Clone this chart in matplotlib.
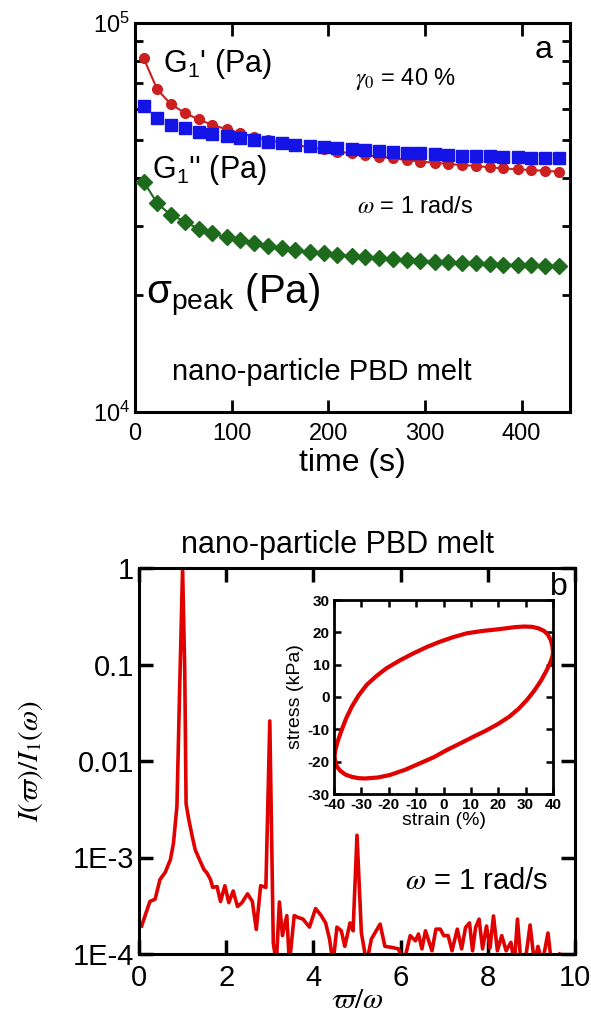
import numpy as np
import matplotlib
matplotlib.use("Agg")
import matplotlib.pyplot as plt
from matplotlib.ticker import FixedLocator, FixedFormatter, NullFormatter, LogLocator

plt.rcParams["font.family"] = ["Liberation Sans", "DejaVu Sans"]
plt.rcParams["mathtext.fontset"] = "custom"
plt.rcParams["mathtext.rm"] = "Liberation Sans"
plt.rcParams["mathtext.it"] = "Liberation Sans:italic"
plt.rcParams["mathtext.bf"] = "Liberation Sans:bold"
plt.rcParams["axes.unicode_minus"] = False

# panel a: moduli vs time
time_s = [9, 23, 37, 52, 66, 80, 95, 109, 123, 138, 152, 166, 181, 195, 209, 224,
          238, 252, 267, 281, 295, 310, 324, 338, 353, 367, 381, 396, 410, 424, 439]
g1_storage = [81100, 67500, 61900, 58600, 56500, 54700, 53300, 52100, 51000, 50000,
              49250, 48600, 47900, 47400, 46700, 46250, 45800, 45350, 44900, 44450,
              44000, 43750, 43400, 43150, 42900, 42550, 42300, 42050, 41900, 41650, 41500]
g1_loss = [61200, 56900, 54700, 53600, 52600, 51800, 51100, 50500, 50000, 49500,
           49100, 48700, 48300, 48000, 47700, 47400, 47100, 46800, 46600, 46400,
           46200, 46000, 45800, 45600, 45500, 45400, 45300, 45200, 45100, 45000, 44900]
sigma_peak = [39100, 34400, 32100, 30850, 29500, 28800, 28100, 27600, 27150, 26700,
              26350, 26100, 25800, 25600, 25330, 25180, 24980, 24830, 24690, 24540,
              24430, 24350, 24270, 24150, 24100, 24020, 23930, 23880, 23830, 23780, 23730]

# panel b: Fourier spectrum
freq_ratio = [0.06, 0.25, 0.37, 0.48, 0.60, 0.72, 0.79, 0.87, 0.93, 1.00, 1.05, 1.08,
              1.14, 1.22, 1.29, 1.37, 1.49, 1.56, 1.64, 1.69, 1.79, 1.87, 1.97, 2.06,
              2.16, 2.26, 2.36, 2.49, 2.60, 2.69, 2.79, 2.91, 3.00, 3.08, 3.15, 3.22,
              3.29, 3.39, 3.45, 3.56, 3.64, 3.76, 3.91, 4.05, 4.18, 4.28, 4.37, 4.45,
              4.54, 4.64, 4.72, 4.84, 4.91, 5.00, 5.10, 5.22, 5.33, 5.53, 5.64, 5.80,
              5.95, 6.07, 6.22, 6.34, 6.41, 6.49, 6.57, 6.72, 6.81, 6.91, 6.99, 7.09,
              7.18, 7.30, 7.40, 7.49, 7.58, 7.65, 7.72, 7.80, 7.88, 7.97, 8.05, 8.13,
              8.22, 8.32, 8.42, 8.53, 8.61, 8.68, 8.76, 8.88, 8.97, 9.07, 9.15, 9.25,
              9.38, 9.46, 9.58, 9.65]
intensity = [1.95e-4, 3.5e-4, 3.7e-4, 5.9e-4, 7.0e-4, 9.5e-4, 1.4e-3, 3.4e-3, 0.05, 1.0,
             0.08, 3.6e-3, 2.5e-3, 1.66e-3, 1.2e-3, 9.9e-4, 7.5e-4, 6.9e-4, 5.9e-4, 4.9e-4,
             5.0e-4, 3.5e-4, 5.1e-4, 3.4e-4, 4.5e-4, 3.1e-4, 3.4e-4, 4.2e-4, 3.5e-4, 1.8e-4,
             5.1e-4, 4.9e-4, 0.026, 1.3e-4, 8e-5, 3.46e-4, 1.55e-4, 2.5e-4, 8e-5, 2.5e-4,
             2.4e-4, 2.3e-4, 1.9e-4, 2.96e-4, 2.5e-4, 2.1e-4, 1.43e-4, 8e-5, 1.9e-4, 1.74e-4,
             1.2e-4, 2.1e-4, 1.74e-4, 1.7e-3, 1.67e-4, 8e-5, 1.43e-4, 2.04e-4, 1.2e-4, 1.17e-4,
             1.13e-4, 8e-5, 1.55e-4, 1.37e-4, 1.61e-4, 1.13e-4, 1.74e-4, 1.08e-4, 1.81e-4, 1.81e-4,
             1.55e-4, 1.55e-4, 1.08e-4, 1.81e-4, 1.13e-4, 1.88e-4, 2.1e-4, 1.08e-4, 1.88e-4, 2.3e-4,
             1.13e-4, 1.95e-4, 1.15e-4, 2.48e-4, 1.08e-4, 1.55e-4, 1.08e-4, 1.32e-4, 8e-5, 2.3e-4,
             8e-5, 1.0e-4, 2.0e-4, 8e-5, 1.2e-4, 8e-5, 1.65e-4, 8e-5, 8e-5, 1.0e-4]
ytick_vals = [1e-4, 1e-3, 1e-2, 1e-1, 1]
ytick_text = ["1E-4", "1E-3", "0.01", "0.1", "1"]

# inset: Lissajous loop (strain %, stress kPa)
strain = [40.0, 39.8, 39.2, 38.2, 36.8, 34.8, 32.4, 29.5, 26.0, 20.5, 14.0, 8.5, 3.5,
          -1.3, -6.0, -11.0, -16.0, -20.8, -24.5, -28.1, -31.0, -33.5, -35.5, -37.2,
          -38.6, -39.5, -39.8, -39.5, -38.8, -37.6, -35.8, -33.5, -31.0, -28.7, -24.0,
          -19.5, -14.0, -8.6, -3.5, 1.2, 6.0, 10.9, 15.5, 20.0, 24.0, 27.5, 30.5, 33.2,
          35.5, 37.4, 38.8, 39.6, 40.0]
stress = [13.5, 15.6, 17.6, 19.2, 20.4, 21.2, 21.7, 21.8, 21.6, 21.0, 20.4, 19.7, 18.5,
          17.1, 15.5, 13.5, 11.3, 8.9, 6.5, 3.7, 0.5, -3.0, -6.5, -10.2, -13.6, -16.4,
          -18.3, -20.2, -21.7, -22.9, -24.0, -24.7, -25.1, -25.2, -24.9, -24.1, -22.5,
          -20.5, -18.6, -16.4, -14.4, -12.3, -10.4, -8.3, -6.1, -3.6, -0.9, 2.0, 4.9,
          7.8, 10.2, 12.0, 13.5]

RED = "#cc1f1f"
BLUE = "#1414e6"
GREEN = "#1e6b1e"
LINE_RED = "#e00000"


def main():
    fig = plt.figure(figsize=(5.91, 10.17), dpi=100)

    # ---- panel a ----
    ax = fig.add_axes([135 / 591, (1017 - 412) / 1017, 435 / 591, 389 / 1017])
    ax.plot(time_s, g1_storage, "-o", color=RED, ms=7, lw=1.5, zorder=3)
    ax.plot(time_s, g1_loss, "s", color=BLUE, ms=8.5, zorder=4)
    ax.plot(time_s, sigma_peak, "-D", color=GREEN, ms=8, lw=1.5, zorder=3)
    ax.set_yscale("log")
    ax.set_xlim(0, 450)
    ax.set_ylim(1e4, 1e5)
    ax.set_xticks([0, 100, 200, 300, 400])
    ax.yaxis.set_minor_locator(LogLocator(base=10, subs=np.arange(2, 10)))
    ax.yaxis.set_minor_formatter(NullFormatter())
    ax.tick_params(which="both", direction="in", top=True, right=True, width=2,
                   labelsize=17)
    ax.tick_params(which="major", length=9)
    ax.tick_params(which="minor", length=6)
    ax.tick_params(axis="x", pad=8)
    for s in ax.spines.values():
        s.set_linewidth(2.2)
    ax.set_xlabel("time (s)", fontsize=23, labelpad=2)

    tr = ax.transAxes
    ax.text(0.065, 0.895, "G$_1$' (Pa)", transform=tr, fontsize=22, va="center")
    ax.text(0.94, 0.93, "a", transform=tr, fontsize=23, ha="center", va="center")
    ax.text(0.505, 0.855, r"$\gamma_0$ = 40 %", transform=tr, fontsize=17,
            va="center", math_fontfamily="stix")
    ax.text(0.04, 0.622, "G$_1$'' (Pa)", transform=tr, fontsize=22, va="center")
    ax.text(0.51, 0.527, r"$\omega$ = 1 rad/s", transform=tr, fontsize=17,
            va="center", math_fontfamily="stix")
    ax.text(0.025, 0.30, r"$\mathrm{\sigma}_{\mathrm{peak}}$ (Pa)", transform=tr,
            fontsize=29, va="center")
    ax.text(0.085, 0.103, "nano-particle PBD melt", transform=tr, fontsize=21,
            va="center")

    # ---- panel b ----
    bx = fig.add_axes([139 / 591, (1017 - 954) / 1017, 436 / 591, 386 / 1017])
    bx.plot(freq_ratio, intensity, "-", color=LINE_RED, lw=2.6)
    bx.set_yscale("log")
    bx.set_xlim(0, 10)
    bx.set_ylim(1e-4, 1)
    bx.set_xticks([0, 2, 4, 6, 8, 10])
    bx.yaxis.set_major_locator(FixedLocator(ytick_vals))
    bx.yaxis.set_major_formatter(FixedFormatter(ytick_text))
    bx.yaxis.set_minor_locator(FixedLocator([]))
    bx.tick_params(which="major", direction="in", top=True, right=True, width=2.5,
                   length=10, labelsize=21)
    bx.tick_params(axis="x", pad=7)
    for s in bx.spines.values():
        s.set_linewidth(2.2)
    bx.set_xlabel(r"$\varpi/\omega$", fontsize=21, math_fontfamily="stix", labelpad=-4)
    bx.set_ylabel(r"$I(\varpi)/I_{1}(\omega)$", fontsize=21, math_fontfamily="stix",
                  labelpad=20)
    tb = bx.transAxes
    bx.text(0.456, 1.06, "nano-particle PBD melt", transform=tb, fontsize=22,
            ha="center", va="center")
    bx.text(0.962, 0.95, "b", transform=tb, fontsize=23, ha="center", va="center")
    bx.text(0.61, 0.188, r"$\omega$ = 1 rad/s", transform=tb, fontsize=21,
            va="center", math_fontfamily="stix")

    # ---- inset ----
    ix = fig.add_axes([334 / 591, (1017 - 794) / 1017, 219 / 591, 194 / 1017])
    ix.plot(strain, stress, "-", color=LINE_RED, lw=3)
    ix.set_xlim(-40, 40)
    ix.set_ylim(-30, 30)
    ix.set_xticks(np.arange(-40, 41, 10))
    ix.set_yticks(np.arange(-30, 31, 10))
    ix.tick_params(direction="in", top=True, right=True, width=1.8, length=5,
                   labelsize=11, pad=3)
    for lab in ix.get_xticklabels() + ix.get_yticklabels():
        lab.set_fontweight("bold")
    for s in ix.spines.values():
        s.set_linewidth(2)
    ix.set_xlabel("strain (%)", fontsize=14, labelpad=0)
    ix.set_ylabel("stress (kPa)", fontsize=14, labelpad=3)

    fig.savefig("out.png", dpi=100)


if __name__ == "__main__":
    main()
